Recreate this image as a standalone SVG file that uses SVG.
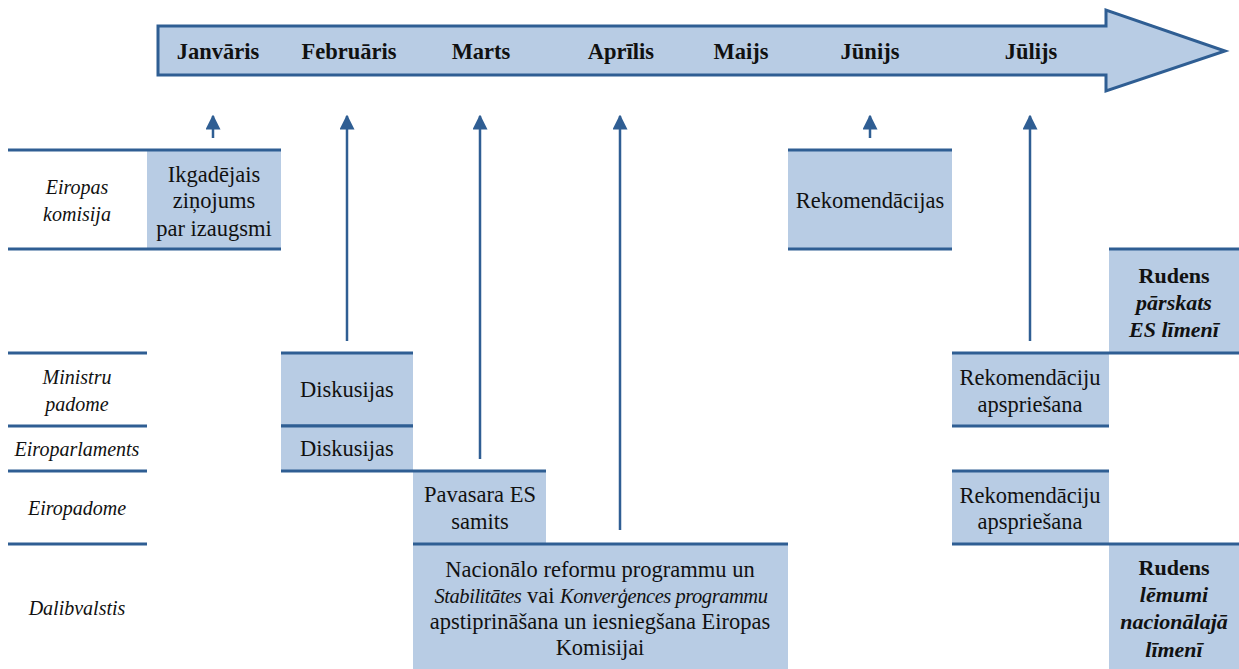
<svg xmlns="http://www.w3.org/2000/svg" width="1239" height="669" viewBox="0 0 1239 669">
<style>
text{font-family:"Liberation Serif","DejaVu Serif",serif;font-size:22.5px;fill:#111;text-anchor:middle}
.m{font-weight:bold;font-size:22.5px}
.i{font-style:italic;font-size:20px}
.b{font-weight:bold;font-size:22px}
.bi{font-weight:bold;font-style:italic;font-size:22px}
.it{font-style:italic;font-size:20.5px;letter-spacing:-0.45px}
.box{fill:#B8CCE4;stroke:none}
.ln{stroke:#2F5E93;stroke-width:3;fill:none}
.ar{stroke:#2F5E93;stroke-width:2.5;fill:none;marker-end:url(#ah)}
</style>
<defs>
<marker id="ah" viewBox="0 0 10 10" refX="9" refY="5" markerWidth="6" markerHeight="6" markerUnits="strokeWidth" orient="auto">
<path d="M0,0 L10,5 L0,10 z" fill="#2F5E93"/>
</marker>
</defs>
<g id="timeline">
<path d="M158,26 L1106,26 L1106,10 L1225,51 L1106,91 L1106,75 L158,75 Z" fill="#B8CCE4" stroke="#2F5E93" stroke-width="3"/>
<text class="m" x="218" y="59">Janvāris</text>
<text class="m" x="349" y="59">Februāris</text>
<text class="m" x="481" y="59">Marts</text>
<text class="m" x="621" y="59">Aprīlis</text>
<text class="m" x="741" y="59">Maijs</text>
<text class="m" x="870" y="59">Jūnijs</text>
<text class="m" x="1031" y="59">Jūlijs</text>
</g>
<g id="lane-labels">
<line class="ln" x1="8" y1="150" x2="147" y2="150"/>
<line class="ln" x1="8" y1="249" x2="147" y2="249"/>
<text class="i" x="77" y="194">Eiropas</text>
<text class="i" x="77" y="221">komisija</text>
<line class="ln" x1="8" y1="353" x2="147" y2="353"/>
<line class="ln" x1="8" y1="426" x2="147" y2="426"/>
<text class="i" x="77" y="384">Ministru</text>
<text class="i" x="77" y="411">padome</text>
<line class="ln" x1="8" y1="471" x2="147" y2="471"/>
<text class="i" x="77" y="456">Eiroparlaments</text>
<line class="ln" x1="8" y1="544" x2="147" y2="544"/>
<text class="i" x="77" y="515">Eiropadome</text>
<text class="i" x="77" y="615">Dalibvalstis</text>
</g>
<g id="n-ikgadejais">
<rect class="box" x="147" y="150" width="134" height="99"/>
<line class="ln" x1="147" y1="150" x2="281" y2="150"/>
<line class="ln" x1="147" y1="249" x2="281" y2="249"/>
<text x="214" y="182">Ikgadējais</text>
<text x="214" y="208">ziņojums</text>
<text x="214" y="236">par izaugsmi</text>
</g>
<g id="n-rekomendacijas">
<rect class="box" x="788" y="150" width="164" height="99"/>
<line class="ln" x1="788" y1="150" x2="952" y2="150"/>
<line class="ln" x1="788" y1="249" x2="952" y2="249"/>
<text x="870" y="208">Rekomendācijas</text>
</g>
<g id="n-rudens-parskats">
<rect class="box" x="1109" y="249" width="130" height="104"/>
<line class="ln" x1="1109" y1="249" x2="1239" y2="249"/>
<line class="ln" x1="1109" y1="353" x2="1239" y2="353"/>
<text class="b" x="1174" y="283">Rudens</text>
<text class="bi" x="1174" y="310">pārskats</text>
<text class="bi" x="1174" y="337">ES līmenī</text>
</g>
<g id="n-diskusijas-1">
<rect class="box" x="281" y="353" width="132" height="73"/>
<line class="ln" x1="281" y1="353" x2="413" y2="353"/>
<line class="ln" x1="281" y1="426" x2="413" y2="426"/>
<text x="347" y="397">Diskusijas</text>
</g>
<g id="n-diskusijas-2">
<rect class="box" x="281" y="426" width="132" height="45"/>
<line class="ln" x1="281" y1="426" x2="413" y2="426"/>
<line class="ln" x1="281" y1="471" x2="413" y2="471"/>
<text x="347" y="456">Diskusijas</text>
</g>
<g id="n-pavasara">
<rect class="box" x="413" y="471" width="133" height="73"/>
<line class="ln" x1="413" y1="471" x2="546" y2="471"/>
<text x="480" y="502">Pavasara ES</text>
<text x="480" y="529">samits</text>
</g>
<g id="n-nacionalo">
<rect class="box" x="413" y="544" width="375" height="125"/>
<line class="ln" x1="413" y1="544" x2="788" y2="544"/>
<text x="600" y="577">Nacionālo reformu programmu un</text>
<text x="601" y="603"><tspan class="it">Stabilitātes</tspan> vai <tspan class="it">Konverģences programmu</tspan></text>
<text x="600" y="629">apstiprināšana un iesniegšana Eiropas</text>
<text x="600" y="655">Komisijai</text>
</g>
<g id="n-rek-apspr-1">
<rect class="box" x="952" y="353" width="157" height="73"/>
<line class="ln" x1="952" y1="353" x2="1109" y2="353"/>
<line class="ln" x1="952" y1="426" x2="1109" y2="426"/>
<text x="1030" y="385">Rekomendāciju</text>
<text x="1030" y="412">apspriešana</text>
</g>
<g id="n-rek-apspr-2">
<rect class="box" x="952" y="471" width="157" height="73"/>
<line class="ln" x1="952" y1="471" x2="1109" y2="471"/>
<line class="ln" x1="952" y1="544" x2="1109" y2="544"/>
<text x="1030" y="503">Rekomendāciju</text>
<text x="1030" y="529">apspriešana</text>
</g>
<g id="n-rudens-lemumi">
<rect class="box" x="1109" y="544" width="130" height="125"/>
<line class="ln" x1="1109" y1="544" x2="1239" y2="544"/>
<text class="b" x="1174" y="575">Rudens</text>
<text class="bi" x="1174" y="602">lēmumi</text>
<text class="bi" x="1174" y="629">nacionālajā</text>
<text class="bi" x="1174" y="657">līmenī</text>
</g>
<g id="connectors">
<line class="ar" x1="213" y1="138" x2="213" y2="116"/>
<line class="ar" x1="347" y1="341" x2="347" y2="116"/>
<line class="ar" x1="480" y1="459" x2="480" y2="116"/>
<line class="ar" x1="620" y1="530" x2="620" y2="116"/>
<line class="ar" x1="870" y1="138" x2="870" y2="116"/>
<line class="ar" x1="1030" y1="341" x2="1030" y2="116"/>
</g>
</svg>
